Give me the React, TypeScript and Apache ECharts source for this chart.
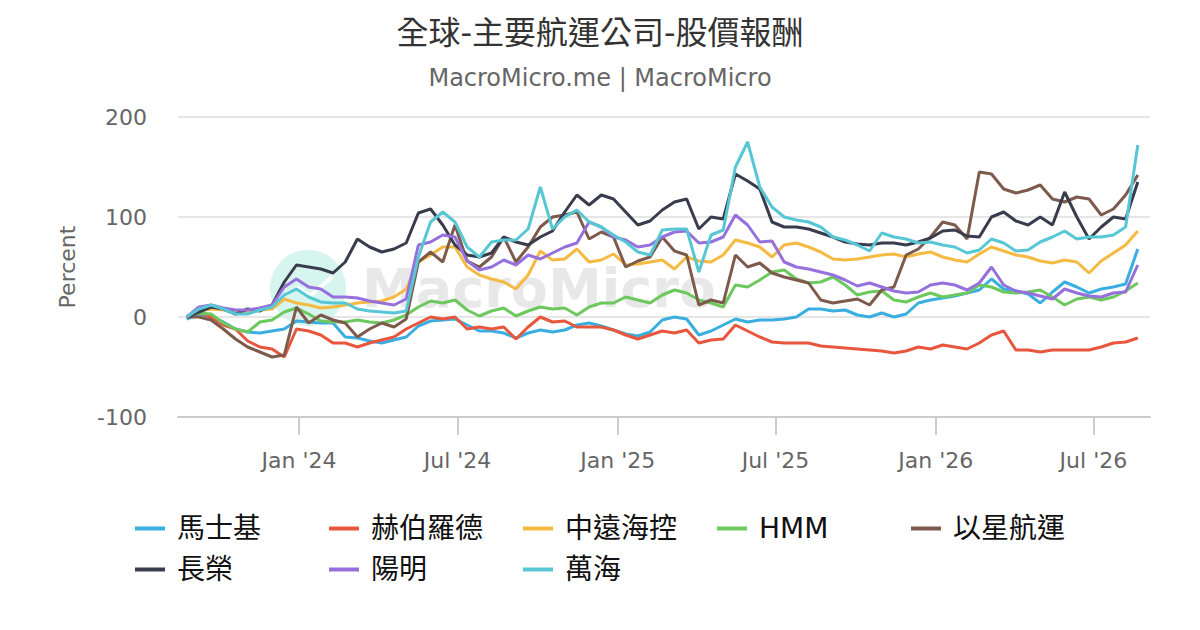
import React, { useEffect, useRef } from "react";
import * as echarts from "echarts";

const dates = [
  "2023-08-25", "2023-09-08", "2023-09-22", "2023-10-06", "2023-10-20", "2023-11-03", "2023-11-17", "2023-12-01", "2023-12-15", "2023-12-29",
  "2024-01-12", "2024-01-26", "2024-02-09", "2024-02-23", "2024-03-08", "2024-03-22", "2024-04-05", "2024-04-19", "2024-05-03", "2024-05-17",
  "2024-05-31", "2024-06-14", "2024-06-28", "2024-07-12", "2024-07-26", "2024-08-09", "2024-08-23", "2024-09-06", "2024-09-20", "2024-10-04",
  "2024-10-18", "2024-11-01", "2024-11-15", "2024-11-29", "2024-12-13", "2024-12-27", "2025-01-10", "2025-01-24", "2025-02-07", "2025-02-21",
  "2025-03-07", "2025-03-21", "2025-04-04", "2025-04-18", "2025-05-02", "2025-05-16", "2025-05-30", "2025-06-13", "2025-06-27", "2025-07-11",
  "2025-07-25", "2025-08-08", "2025-08-22", "2025-09-05", "2025-09-19", "2025-10-03", "2025-10-17", "2025-10-31", "2025-11-14", "2025-11-28",
  "2025-12-12", "2025-12-26", "2026-01-09", "2026-01-23", "2026-02-06", "2026-02-20", "2026-03-06", "2026-03-20", "2026-04-03", "2026-04-17",
  "2026-05-01", "2026-05-15", "2026-05-29", "2026-06-12", "2026-06-26", "2026-07-10", "2026-07-24", "2026-08-07", "2026-08-21",
];

// 馬士基
const maersk = [
  -2, 3, 0, -5, -12, -15, -16, -14, -12, -4,
  -5, -6, -6, -20, -21, -24, -26, -23, -20, -9,
  -4, -3, -2, -8, -14, -14, -16, -21, -16, -13,
  -15, -13, -8, -6, -9, -13, -17, -19, -15, -3,
  0, -2, -18, -14, -8, -2, -5, -3, -3, -2,
  0, 8, 8, 6, 7, 2, 0, 4, 0, 3,
  14, 17, 19, 21, 24, 27, 38, 28, 26, 23,
  14, 25, 35, 30, 24, 28, 30, 33, 68,
];
// 赫伯羅德
const hapag = [
  0, 5, 0, -8, -12, -24, -30, -32, -40, -12,
  -14, -18, -26, -26, -30, -26, -23, -20, -12, -6,
  0, -2, 0, -12, -10, -12, -10, -22, -10, 0,
  -5, -4, -10, -10, -10, -13, -18, -22, -18, -14,
  -16, -13, -26, -23, -22, -8, -14, -20, -25, -26,
  -26, -26, -29, -30, -31, -32, -33, -34, -36, -34,
  -30, -32, -28, -30, -32, -26, -18, -14, -33, -33,
  -35, -33, -33, -33, -33, -30, -26, -25, -21,
];
// 中遠海控
const cosco = [
  0, 6, 8, 7, 5, 5, 7, 8, 18, 14,
  12, 9, 10, 12, 14, 15, 16, 20, 28, 55,
  62, 70, 70, 50, 42, 38, 35, 28, 42, 66,
  57, 58, 68, 55, 57, 63, 52, 53, 55, 57,
  48, 60, 56, 55, 62, 77, 74, 70, 60, 72,
  74, 70, 65, 58, 57, 58, 60, 62, 63, 60,
  63, 65, 60, 57, 55, 63, 70, 66, 62, 60,
  56, 54, 57, 55, 44, 56, 64, 72, 86,
];
// HMM
const hmm = [
  0, 4, 3, -6, -12, -15, -5, -3, 5, 9,
  3, -4, -5, -5, -3, -5, -6, -3, 2, 10,
  16, 14, 17, 7, 1, 6, 9, 1, 6, 10,
  8, 9, 2, 10, 14, 14, 20, 17, 14, 22,
  27, 24, 17, 14, 10, 32, 30, 37, 45, 47,
  38, 34, 35, 40, 32, 22, 25, 26, 17, 15,
  20, 24, 20, 22, 24, 32, 30, 25, 24, 25,
  27, 20, 12, 18, 20, 17, 20, 26, 34,
];
// 以星航運
const zim = [
  0, 0, -3, -12, -22, -30, -35, -40, -38, 10,
  -6, 2, -3, -6, -20, -12, -6, -10, -2, 55,
  65, 55, 92, 56, 50, 60, 80, 55, 70, 90,
  100, 102, 105, 78, 85, 80, 50, 56, 60, 80,
  66, 62, 12, 17, 14, 62, 50, 54, 44, 40,
  37, 34, 17, 14, 16, 18, 12, 27, 30, 62,
  68, 80, 95, 92, 78, 145, 143, 128, 124, 127,
  132, 118, 115, 120, 118, 102, 108, 122, 142,
];
// 長榮
const evergreen = [
  0, 5, 10, 8, 3, 8, 6, 12, 35, 52,
  50, 48, 44, 55, 78, 70, 65, 68, 74, 104,
  108, 92, 72, 62, 60, 64, 80, 75, 72, 80,
  86, 105, 122, 112, 122, 118, 105, 92, 96, 107,
  115, 118, 88, 100, 98, 143, 136, 128, 95, 90,
  90, 88, 84, 80, 75, 73, 72, 74, 74, 72,
  75, 79, 86, 87, 81, 80, 100, 105, 96, 92,
  100, 92, 125, 100, 78, 90, 100, 98, 135,
];
// 陽明
const yangming = [
  0, 10, 12, 9, 7, 7, 9, 12, 30, 38,
  30, 28, 20, 20, 19, 16, 14, 12, 18, 72,
  75, 82, 80, 56, 47, 50, 57, 52, 62, 58,
  64, 70, 74, 95, 90, 80, 77, 70, 72, 80,
  85, 86, 74, 75, 80, 102, 92, 75, 76, 55,
  50, 48, 45, 42, 37, 31, 34, 30, 26, 24,
  25, 32, 34, 32, 27, 34, 50, 32, 26, 24,
  21, 18, 28, 24, 21, 20, 24, 25, 52,
];
// 萬海
const wanhai = [
  0, 8, 12, 8, 3, 3, 7, 10, 22, 28,
  20, 15, 14, 14, 8, 6, 5, 4, 6, 60,
  95, 105, 95, 70, 60, 75, 77, 77, 88, 130,
  88, 100, 107, 95, 90, 82, 75, 65, 62, 87,
  88, 88, 45, 82, 87, 150, 175, 130, 110, 100,
  97, 95, 90, 80, 77, 72, 66, 84, 80, 78,
  74, 75, 72, 70, 64, 67, 78, 74, 66, 67,
  75, 80, 86, 78, 80, 80, 82, 90, 172,
];

const seriesNames = ["馬士基", "赫伯羅德", "中遠海控", "HMM", "以星航運", "長榮", "陽明", "萬海"];
const seriesValues = [maersk, hapag, cosco, hmm, zim, evergreen, yangming, wanhai];
const colors = ["#3AAEE0", "#E8563E", "#F5BA42", "#6DC85E", "#7D5A4C", "#383C4D", "#9670DC", "#58C7D5"];
const yTicks = { min: -100, max: 200, interval: 100 };
const xRange = { min: "2023-08-15", max: "2026-09-04" };
const monthNames = ["Jan", "Feb", "Mar", "Apr", "May", "Jun", "Jul", "Aug", "Sep", "Oct", "Nov", "Dec"];

const FONT = "'DejaVu Sans', 'Noto Sans CJK TC', sans-serif";

export default function App() {
  const ref = useRef<HTMLDivElement>(null);
  useEffect(() => {
    document.body.style.margin = "0";
    const chart = echarts.init(ref.current!, null, { renderer: "svg" });
    chart.setOption({
      animation: false,
      backgroundColor: "#ffffff",
      textStyle: { fontFamily: FONT },
      title: [
        {
          text: "全球-主要航運公司-股價報酬",
          left: "center",
          top: 12,
          textStyle: { fontSize: 32, fontWeight: "normal", color: "#333333", fontFamily: FONT },
        },
        {
          text: "MacroMicro.me | MacroMicro",
          left: "center",
          top: 61,
          textStyle: { fontSize: 24, fontWeight: "normal", color: "#666666", fontFamily: FONT },
        },
      ],
      graphic: [
        {
          type: "circle",
          shape: { cx: 308, cy: 288, r: 38 },
          style: { fill: "#d6f5ee" },
          z: -10,
          silent: true,
        },
        {
          type: "polyline",
          shape: { points: [[297, 287], [310, 296], [333, 276]] },
          style: { stroke: "#ffffff", lineWidth: 4, fill: "none" },
          z: -9,
          silent: true,
        },
        {
          type: "text",
          x: 362,
          y: 288,
          style: {
            text: "MacroMicro",
            fontSize: 54,
            fontWeight: "bold",
            fontFamily: FONT,
            fill: "#e8e8e8",
            verticalAlign: "middle",
          },
          z: -10,
          silent: true,
        },
      ],
      grid: { left: 178, right: 50, top: 117, bottom: 213, containLabel: false },
      legend: {
        data: seriesNames,
        left: 130,
        top: 509,
        width: 1000,
        icon: "rect",
        itemWidth: 30,
        itemHeight: 4,
        itemGap: 12,
        textStyle: {
          fontSize: 28,
          color: "#111111",
          fontFamily: FONT,
          width: 140,
          lineHeight: 29,
          padding: [0, 0, 0, 7],
        },
      },
      xAxis: {
        type: "time",
        min: xRange.min,
        max: xRange.max,
        minInterval: 180 * 24 * 3600 * 1000,
        maxInterval: 185 * 24 * 3600 * 1000,
        axisLine: { show: true, onZero: false, lineStyle: { color: "#cccccc", width: 2 } },
        axisTick: { show: true, length: 18, lineStyle: { color: "#cccccc", width: 2 } },
        minorTick: { show: false },
        splitLine: { show: false },
        axisLabel: {
          fontSize: 22,
          color: "#666666",
          margin: 32,
          fontFamily: FONT,
          hideOverlap: false,
          formatter: (val: number) => {
            const d = new Date(val);
            return monthNames[d.getMonth()] + " '" + String(d.getFullYear()).slice(2);
          },
        },
      },
      yAxis: {
        type: "value",
        min: yTicks.min,
        max: yTicks.max,
        interval: yTicks.interval,
        name: "Percent",
        nameLocation: "middle",
        nameGap: 100,
        nameTextStyle: { fontSize: 22, color: "#666666", fontFamily: FONT },
        axisLine: { show: false },
        axisTick: { show: false },
        splitLine: { show: true, lineStyle: { color: "#e6e6e6", width: 2 } },
        axisLabel: { fontSize: 22, color: "#666666", margin: 31, fontFamily: FONT },
      },
      series: seriesNames.map((name, k) => ({
        name,
        type: "line",
        data: dates.map((d, i) => [d, seriesValues[k][i]]),
        showSymbol: false,
        symbol: "none",
        lineStyle: { width: 3, color: colors[k] },
        itemStyle: { color: colors[k] },
        z: 2 + k,
      })),
    });
    return () => chart.dispose();
  }, []);
  return <div ref={ref} style={{ width: 1200, height: 630 }} />;
}
